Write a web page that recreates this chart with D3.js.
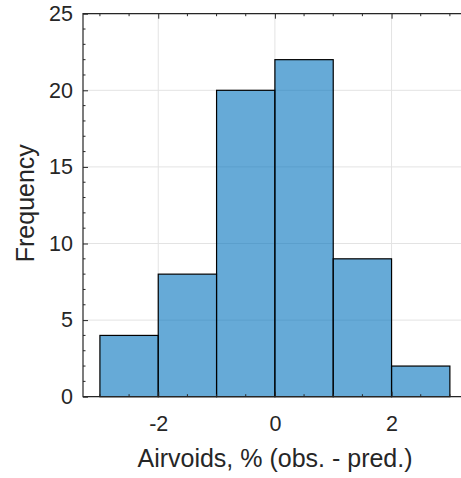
<!DOCTYPE html>
<html>
<head>
<meta charset="utf-8">
<script src="https://cdn.jsdelivr.net/npm/d3@7"></script>
<style>
  html, body { margin: 0; padding: 0; background: #fff; }
  svg { display: block; }
  text { font-family: "Liberation Sans", Arial, Helvetica, sans-serif; fill: #262626; }
</style>
</head>
<body>
<svg id="chart" width="461" height="478"></svg>
<script>
// Histogram of residuals: bin edges and counts
const binEdges = [-3, -2, -1, 0, 1, 2, 3];
const counts = [4, 8, 20, 22, 9, 2];
const xTicks = [-2, 0, 2];
const yTicks = [0, 5, 10, 15, 20, 25];
const xMinorTicks = [-3, -2.5, -1.5, -1, -0.5, 0.5, 1, 1.5, 2.5, 3];
const yMinorTicks = d3.range(0, 26, 1).filter(v => v % 5 !== 0);
const xLabel = "Airvoids, % (obs. - pred.)";
const yLabel = "Frequency";

const bins = counts.map((c, i) => ({ x0: binEdges[i], x1: binEdges[i + 1], count: c }));

const svg = d3.select("#chart");
const plotL = 83, plotT = 13.7, plotB = 396.7, plotR = 466.8;

const x = d3.scaleLinear().domain([-3.29, 3.29]).range([plotL, plotR]);
const y = d3.scaleLinear().domain([0, 25]).range([plotB, plotT]);

const axisColor = "#262626";
const tickFont = 21.5, labelFont = 25;

// grid
const grid = svg.append("g");
grid.selectAll("line.gx").data(xTicks).join("line")
  .attr("x1", d => x(d)).attr("x2", d => x(d))
  .attr("y1", plotT).attr("y2", plotB)
  .attr("stroke", "#e3e3e3").attr("stroke-width", 1);
grid.selectAll("line.gy").data(yTicks).join("line")
  .attr("x1", plotL).attr("x2", plotR)
  .attr("y1", d => y(d)).attr("y2", d => y(d))
  .attr("stroke", "#e3e3e3").attr("stroke-width", 1);

// bars
svg.append("g").selectAll("rect").data(bins).join("rect")
  .attr("x", d => x(d.x0))
  .attr("y", d => y(d.count))
  .attr("width", d => x(d.x1) - x(d.x0))
  .attr("height", d => y(0) - y(d.count))
  .attr("fill", "#0072BD").attr("fill-opacity", 0.6)
  .attr("stroke", "#000").attr("stroke-width", 1.2);

// axes (ticks point inward)
const xAxisB = d3.axisBottom(x).tickValues(xTicks).tickSize(-5).tickPadding(19.5)
  .tickFormat(d => d < 0 ? "-" + Math.abs(d) : d);
const gxb = svg.append("g").attr("transform", `translate(0,${plotB})`).call(xAxisB);
gxb.select(".domain").remove();
gxb.selectAll(".tick line").attr("stroke", axisColor);
gxb.selectAll(".tick text").attr("font-size", tickFont).style("fill", axisColor);

const yAxisL = d3.axisLeft(y).tickValues(yTicks).tickSize(-5).tickPadding(10);
const gyl = svg.append("g").attr("transform", `translate(${plotL},0)`).call(yAxisL);
gyl.select(".domain").remove();
gyl.selectAll(".tick line").attr("stroke", axisColor);
gyl.selectAll(".tick text").attr("font-size", tickFont).style("fill", axisColor);

// top-side ticks
const xAxisT = d3.axisTop(x).tickValues(xTicks).tickSize(-5).tickFormat("");
const gxt = svg.append("g").attr("transform", `translate(0,${plotT})`).call(xAxisT);
gxt.select(".domain").remove();
gxt.selectAll(".tick line").attr("stroke", axisColor);

// minor ticks
const minor = svg.append("g").attr("stroke", axisColor).attr("stroke-width", 1);
minor.selectAll("line.mxb").data(xMinorTicks).join("line")
  .attr("x1", d => x(d)).attr("x2", d => x(d)).attr("y1", plotB).attr("y2", plotB - 2.5);
minor.selectAll("line.mxt").data(xMinorTicks).join("line")
  .attr("x1", d => x(d)).attr("x2", d => x(d)).attr("y1", plotT).attr("y2", plotT + 2.5);
minor.selectAll("line.my").data(yMinorTicks).join("line")
  .attr("x1", plotL).attr("x2", plotL + 2.5).attr("y1", d => y(d)).attr("y2", d => y(d));

// box
svg.append("path")
  .attr("d", `M${plotR},${plotT}H${plotL}V${plotB}H${plotR}V${plotT}`)
  .attr("fill", "none").attr("stroke", axisColor).attr("stroke-width", 1.2);

// labels
svg.append("text")
  .attr("x", 275).attr("y", 467)
  .attr("text-anchor", "middle").attr("font-size", labelFont)
  .text(xLabel);
svg.append("text")
  .attr("transform", `translate(34,${(plotT + plotB) / 2 - 2}) rotate(-90)`)
  .attr("text-anchor", "middle").attr("font-size", labelFont)
  .text(yLabel);
</script>
</body>
</html>
